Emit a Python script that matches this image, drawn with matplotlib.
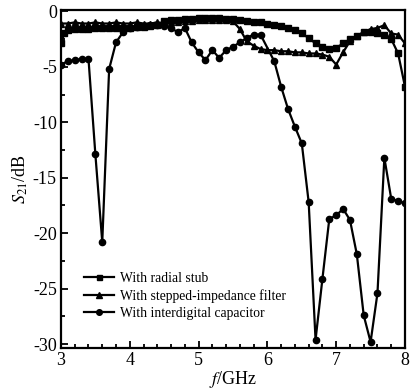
import matplotlib
matplotlib.use("Agg")
import matplotlib.pyplot as plt
from matplotlib.ticker import MultipleLocator

plt.rcParams['font.family'] = ['Liberation Serif', 'DejaVu Serif']
plt.rcParams['mathtext.fontset'] = 'stix'

# Series: With radial stub (squares)
f_stub = [3.0, 3.05, 3.1, 3.2, 3.3, 3.4, 3.5, 3.6, 3.7, 3.8, 3.9, 4.0, 4.1, 4.2, 4.3, 4.4,
          4.5, 4.6, 4.7, 4.8, 4.9, 5.0, 5.1, 5.2, 5.3, 5.4, 5.5, 5.6, 5.7, 5.8, 5.9,
          6.0, 6.1, 6.2, 6.3, 6.4, 6.5, 6.6, 6.7, 6.8, 6.9, 7.0, 7.1, 7.2, 7.3, 7.4,
          7.5, 7.6, 7.7, 7.8, 7.9, 8.0]
s_stub = [-2.9, -2.0, -1.7, -1.6, -1.6, -1.6, -1.5, -1.5, -1.5, -1.5, -1.5, -1.5, -1.4, -1.4, -1.3, -1.2,
          -0.9, -0.8, -0.8, -0.7, -0.7, -0.6, -0.6, -0.6, -0.6, -0.7, -0.7, -0.8, -0.9, -1.0, -1.0,
          -1.1, -1.2, -1.3, -1.5, -1.7, -2.0, -2.4, -2.9, -3.2, -3.4, -3.3, -2.9, -2.5, -2.2, -1.9,
          -1.9, -2.0, -2.1, -2.5, -3.8, -6.8]

# Series: With stepped-impedance filter (triangles)
f_step = [3.0, 3.1, 3.2, 3.3, 3.4, 3.5, 3.6, 3.7, 3.8, 3.9, 4.0, 4.1, 4.2, 4.3, 4.4, 4.5,
          4.6, 4.7, 4.8, 4.9, 5.0, 5.1, 5.2, 5.3, 5.4, 5.5, 5.6, 5.7, 5.8, 5.9, 6.0,
          6.1, 6.2, 6.3, 6.4, 6.5, 6.6, 6.7, 6.8, 6.9, 7.0, 7.1, 7.2, 7.3, 7.4, 7.5,
          7.6, 7.7, 7.8, 7.9, 8.0]
s_step = [-1.1, -1.1, -1.0, -1.1, -1.1, -1.0, -1.1, -1.1, -1.0, -1.1, -1.1, -1.0, -1.1, -1.1, -1.0, -1.1,
          -1.0, -1.0, -0.9, -0.9, -0.8, -0.8, -0.8, -0.8, -0.8, -0.9, -1.6, -2.7, -3.1, -3.4, -3.5,
          -3.5, -3.6, -3.6, -3.7, -3.7, -3.8, -3.8, -3.9, -4.1, -4.8, -3.7, -2.7, -2.2, -1.9, -1.6,
          -1.5, -1.25, -2.0, -2.1, -2.9]

# Series: With interdigital capacitor (circles)
f_idc = [3.0, 3.1, 3.2, 3.3, 3.4, 3.5, 3.6, 3.7, 3.8, 3.9, 4.0, 4.1, 4.2, 4.3, 4.4, 4.5,
         4.6, 4.7, 4.8, 4.9, 5.0, 5.1, 5.2, 5.3, 5.4, 5.5, 5.6, 5.7, 5.8, 5.9, 6.1,
         6.2, 6.3, 6.4, 6.5, 6.6, 6.7, 6.8, 6.9, 7.0, 7.1, 7.2, 7.3, 7.4, 7.5, 7.6,
         7.7, 7.8, 7.9, 8.0]
s_idc = [-4.8, -4.5, -4.4, -4.3, -4.3, -12.9, -20.8, -5.2, -2.8, -1.9, -1.5, -1.4, -1.3, -1.2, -1.2, -1.3,
         -1.5, -1.9, -1.5, -2.8, -3.7, -4.4, -3.5, -4.2, -3.5, -3.2, -2.8, -2.4, -2.1, -2.1, -4.5,
         -6.8, -8.8, -10.4, -11.9, -17.2, -29.6, -24.1, -18.7, -18.4, -17.8, -18.8, -21.9, -27.4, -29.8, -25.4,
         -13.2, -16.9, -17.1, -17.3]

labels = ['With radial stub', 'With stepped-impedance filter', 'With interdigital capacitor']
x_ticks = [3, 4, 5, 6, 7, 8]
y_ticks = [0, -5, -10, -15, -20, -25, -30]

fig = plt.figure(figsize=(4.12, 3.92), dpi=100)
ax = fig.add_axes([0.148, 0.112, 0.835, 0.862])

lw = 1.6
ax.plot(f_stub, s_stub, color='black', lw=lw, marker='s', ms=4, label=labels[0])
ax.plot(f_step, s_step, color='black', lw=lw, marker='^', ms=4.5, label=labels[1])
ax.plot(f_idc, s_idc, color='black', lw=lw, marker='o', ms=4.5, label=labels[2])

ax.set_xlim(3, 8)
ax.set_ylim(-30.35, 0.1)
ax.set_xticks(x_ticks)
ax.set_yticks(y_ticks)
ax.set_xticklabels([str(v) for v in x_ticks])
ax.set_yticklabels([str(v) for v in y_ticks])
ax.xaxis.set_minor_locator(MultipleLocator(0.2))
ax.yaxis.set_minor_locator(MultipleLocator(2.5))
ax.tick_params(which='both', direction='in', top=False, right=False, width=1.3)
ax.tick_params(which='major', length=5, labelsize=13, pad=3)
ax.tick_params(which='minor', length=3)
for sp in ax.spines.values():
    sp.set_linewidth(1.6)

ax.set_xlabel(r'$f$/GHz', fontsize=13, labelpad=0)
ax.set_ylabel(r'$S_{21}$/dB', fontsize=13, labelpad=2)

leg = ax.legend(loc='lower left', bbox_to_anchor=(0.04, 0.055), frameon=False,
                fontsize=9.8, handlelength=2.2, handletextpad=0.4, labelspacing=0.3,
                borderpad=0.2, markerscale=0.9)

fig.savefig('out.png', dpi=100)
